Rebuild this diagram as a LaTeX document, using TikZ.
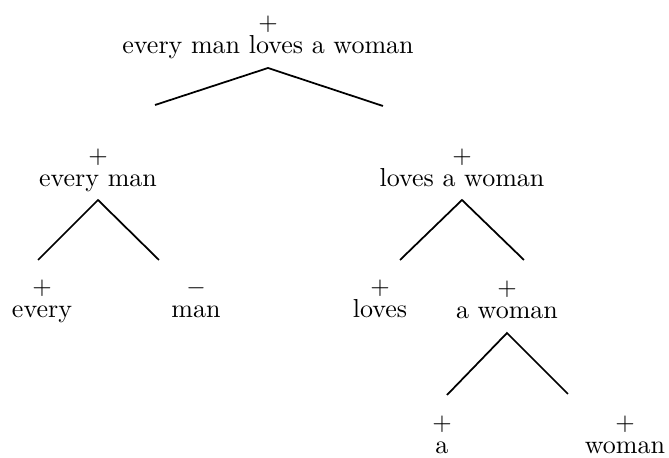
\documentclass[tikz,border=0pt]{standalone}
\begin{document}
\begin{tikzpicture}[x=0.4pt,y=-0.4pt]
  \tikzset{
    word/.style={inner sep=1pt, text height=1.5ex, text depth=0.25ex,
      font=\fontsize{10.4pt}{12pt}\selectfont},
    sign/.style={label={[inner sep=0pt, label distance=0.5pt,
      font=\fontsize{10.4pt}{12pt}\selectfont]above:$#1$}},
    branch/.style={line width=0.7pt}
  }
  \useasboundingbox (0,0) rectangle (669,458);
  % nodes
  \node[word, sign=+] (root) at (268,47) {every man loves a woman};
  \node[word, sign=+] (evman) at (98,180) {every man};
  \node[word, sign=+] (lovaw) at (462,180) {loves a woman};
  \node[word, sign=+] (every) at (42,311) {every};
  \node[word, sign=-] (man) at (196,311) {man};
  \node[word, sign=+] (loves) at (380,311) {loves};
  \node[word, sign=+] (awoman) at (507,312) {a woman};
  \node[word, sign=+] (a) at (442,447) {a};
  \node[word, sign=+] (woman) at (625,447) {woman};
  % branch ends
  \coordinate (r0) at (268,68);
  \coordinate (r1) at (155,105);
  \coordinate (r2) at (383,106);
  \coordinate (e0) at (98,200);
  \coordinate (e1) at (38,260);
  \coordinate (e2) at (159,260);
  \coordinate (l0) at (462,200);
  \coordinate (l1) at (400,260);
  \coordinate (l2) at (524,260);
  \coordinate (w0) at (507,333);
  \coordinate (w1) at (447,395);
  \coordinate (w2) at (568,394);
  \draw[branch] (r1) -- (r0) -- (r2);
  \draw[branch] (e1) -- (e0) -- (e2);
  \draw[branch] (l1) -- (l0) -- (l2);
  \draw[branch] (w1) -- (w0) -- (w2);
\end{tikzpicture}
\end{document}
